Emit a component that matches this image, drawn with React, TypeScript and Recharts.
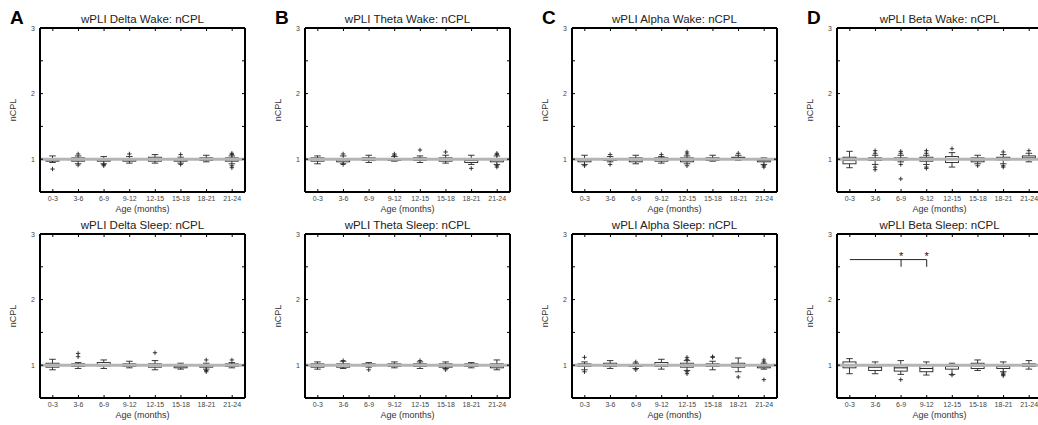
import { ComposedChart, Bar, XAxis, YAxis, ReferenceLine, ReferenceDot } from 'recharts'

const AGES = ['0-3', '3-6', '6-9', '9-12', '12-15', '15-18', '18-21', '21-24']
const Y_TICKS = [0.5, 1, 1.5, 2, 2.5, 3]

// each row: [lower whisker, q1, median, q3, upper whisker]
const DELTA_WAKE = [
  [0.95, 0.97, 0.99, 1.0, 1.05], [0.93, 0.97, 0.99, 1.02, 1.05], [0.93, 0.97, 0.99, 1.0, 1.04], [0.94, 0.97, 0.99, 1.01, 1.04],
  [0.94, 0.97, 1.0, 1.03, 1.07], [0.94, 0.97, 0.99, 1.0, 1.03], [0.96, 0.98, 1.0, 1.02, 1.06], [0.93, 0.97, 0.99, 1.02, 1.05],
]
const DELTA_WAKE_OUT = [[0.85], [1.08, 0.91], [0.9, 0.92], [1.08], [], [1.07, 0.92], [], [1.09, 1.07, 0.9, 0.87]]

const THETA_WAKE = [
  [0.93, 0.97, 1.0, 1.02, 1.05], [0.93, 0.96, 0.99, 1.01, 1.05], [0.95, 0.98, 1.0, 1.02, 1.06], [0.97, 0.98, 1.0, 1.01, 1.04],
  [0.95, 0.98, 1.0, 1.02, 1.05], [0.94, 0.97, 1.0, 1.02, 1.06], [0.92, 0.95, 0.98, 1.01, 1.06], [0.92, 0.96, 0.99, 1.01, 1.05],
]
const THETA_WAKE_OUT = [[], [1.08, 0.92], [], [1.08, 1.06], [1.14], [1.11], [0.86], [1.09, 1.07, 0.9, 0.88]]

const ALPHA_WAKE = [
  [0.92, 0.96, 0.99, 1.01, 1.06], [0.96, 0.98, 1.0, 1.01, 1.04], [0.93, 0.96, 0.99, 1.02, 1.06], [0.94, 0.97, 1.0, 1.02, 1.04],
  [0.93, 0.96, 0.99, 1.02, 1.05], [0.97, 0.98, 1.0, 1.02, 1.06], [0.98, 1.0, 1.02, 1.03, 1.06], [0.92, 0.96, 0.98, 1.0, 1.02],
]
const ALPHA_WAKE_OUT = [[0.9], [1.07, 0.92], [], [1.07], [1.11, 1.08, 0.9], [], [1.09], [0.9, 0.88]]

const BETA_WAKE = [
  [0.87, 0.93, 0.98, 1.03, 1.12], [0.92, 0.98, 1.0, 1.02, 1.06], [0.96, 0.99, 1.01, 1.02, 1.06], [0.92, 0.97, 1.0, 1.03, 1.06],
  [0.88, 0.95, 1.0, 1.04, 1.1], [0.93, 0.96, 0.99, 1.02, 1.06], [0.93, 0.99, 1.01, 1.03, 1.07], [0.96, 1.0, 1.02, 1.05, 1.09],
]
const BETA_WAKE_OUT = [[], [1.13, 1.09, 0.88, 0.84], [1.12, 1.09, 0.92, 0.7], [1.13, 1.09, 0.88, 0.86], [1.16], [0.9], [1.11, 0.9, 0.88], [1.13]]

const DELTA_SLEEP = [
  [0.93, 0.97, 1.0, 1.03, 1.09], [0.95, 0.98, 1.0, 1.02, 1.04], [0.95, 0.99, 1.01, 1.04, 1.08], [0.96, 0.98, 1.0, 1.02, 1.06],
  [0.93, 0.97, 1.0, 1.02, 1.07], [0.94, 0.96, 0.98, 1.0, 1.03], [0.94, 0.97, 0.99, 1.01, 1.03], [0.96, 0.98, 1.0, 1.02, 1.04],
]
const DELTA_SLEEP_OUT = [[], [1.18, 1.13], [], [], [1.19], [], [1.08, 0.92, 0.9], [1.08]]

const THETA_SLEEP = [
  [0.94, 0.97, 1.0, 1.02, 1.05], [0.95, 0.97, 1.0, 1.02, 1.06], [0.97, 0.99, 1.0, 1.02, 1.04], [0.96, 0.98, 1.0, 1.02, 1.05],
  [0.95, 0.98, 1.0, 1.02, 1.05], [0.95, 0.97, 0.99, 1.02, 1.05], [0.96, 0.98, 1.0, 1.02, 1.04], [0.93, 0.96, 0.99, 1.02, 1.08],
]
const THETA_SLEEP_OUT = [[], [1.07], [0.93], [], [1.07], [0.93], [], []]

const ALPHA_SLEEP = [
  [0.93, 0.98, 1.0, 1.02, 1.05], [0.95, 0.98, 1.0, 1.03, 1.07], [0.95, 0.98, 0.99, 1.0, 1.03], [0.94, 0.98, 1.0, 1.04, 1.09],
  [0.92, 0.97, 1.0, 1.03, 1.07], [0.93, 0.98, 1.0, 1.02, 1.06], [0.9, 0.97, 1.0, 1.03, 1.11], [0.94, 0.96, 0.98, 1.0, 1.03],
]
const ALPHA_SLEEP_OUT = [[1.12, 0.9], [], [1.05, 0.93], [], [1.12, 1.09, 0.9, 0.87], [1.13, 1.12], [0.82], [1.08, 1.05, 0.78]]

const BETA_SLEEP = [
  [0.87, 0.96, 1.0, 1.05, 1.1], [0.87, 0.92, 0.97, 1.01, 1.05], [0.86, 0.91, 0.96, 1.0, 1.07], [0.85, 0.9, 0.95, 1.0, 1.05],
  [0.86, 0.94, 0.98, 1.01, 1.03], [0.92, 0.95, 0.99, 1.03, 1.08], [0.9, 0.95, 0.98, 1.01, 1.05], [0.94, 0.98, 1.0, 1.02, 1.07],
]
const BETA_SLEEP_OUT = [[], [], [0.78], [], [0.85], [], [0.88, 0.86, 0.84], []]

// significance bracket in Beta Sleep: reference group, significant groups
const BETA_SLEEP_SIG_FROM = '0-3'
const BETA_SLEEP_SIG_TO = ['6-9', '9-12']

const FONT = '"Liberation Sans", Arial, Helvetica, sans-serif'
const PLOT_LEFT = [40, 305, 572, 837]
const ROW_TOP = [0, 206]
const TICK = 6 // tickSize, tick lines themselves are hidden and redrawn inward
const IN = 3 // inward tick length

type Panel = { title: string; boxes: number[][]; outliers: number[][]; col: number; row: number; letter?: string; sig?: boolean }

const PANELS: Panel[] = [
  { title: 'wPLI Delta Wake: nCPL', boxes: DELTA_WAKE, outliers: DELTA_WAKE_OUT, col: 0, row: 0, letter: 'A' },
  { title: 'wPLI Theta Wake: nCPL', boxes: THETA_WAKE, outliers: THETA_WAKE_OUT, col: 1, row: 0, letter: 'B' },
  { title: 'wPLI Alpha Wake: nCPL', boxes: ALPHA_WAKE, outliers: ALPHA_WAKE_OUT, col: 2, row: 0, letter: 'C' },
  { title: 'wPLI Beta Wake: nCPL', boxes: BETA_WAKE, outliers: BETA_WAKE_OUT, col: 3, row: 0, letter: 'D' },
  { title: 'wPLI Delta Sleep: nCPL', boxes: DELTA_SLEEP, outliers: DELTA_SLEEP_OUT, col: 0, row: 1 },
  { title: 'wPLI Theta Sleep: nCPL', boxes: THETA_SLEEP, outliers: THETA_SLEEP_OUT, col: 1, row: 1 },
  { title: 'wPLI Alpha Sleep: nCPL', boxes: ALPHA_SLEEP, outliers: ALPHA_SLEEP_OUT, col: 2, row: 1 },
  { title: 'wPLI Beta Sleep: nCPL', boxes: BETA_SLEEP, outliers: BETA_SLEEP_OUT, col: 3, row: 1, sig: true },
]

function BottomTick(props: any) {
  const { x, y, payload } = props
  const ay = y - TICK
  return (
    <g>
      <line x1={x} x2={x} y1={ay} y2={ay - IN} stroke="#000" />
      <text x={x} y={ay + 8.5} textAnchor="middle" fontSize={7} fill="#444" fontFamily={FONT}>
        {payload.value}
      </text>
    </g>
  )
}

function TopTick(props: any) {
  const { x, y } = props
  const ay = y + TICK
  return <line x1={x} x2={x} y1={ay} y2={ay + IN} stroke="#000" />
}

function LeftTick(props: any) {
  const { x, y, payload } = props
  const ax = x + TICK
  const v = payload.value
  return (
    <g>
      <line x1={ax} x2={ax + IN} y1={y} y2={y} stroke="#000" />
      {Number.isInteger(v) && (
        <text x={ax - 5} y={y + 2.5} textAnchor="end" fontSize={7} fill="#444" fontFamily={FONT}>
          {v}
        </text>
      )}
    </g>
  )
}

function RightTick(props: any) {
  const { x, y } = props
  const ax = x - TICK
  return <line x1={ax} x2={ax - IN} y1={y} y2={y} stroke="#000" />
}

function BoxShape(props: any) {
  const { x, y, width, height, payload } = props
  const top = Math.min(y, y + height)
  const bottom = Math.max(y, y + height)
  const { min, max, lo, q1, med, q3, hi, out } = payload
  const py = (v: number) => bottom - ((v - min) / (max - min)) * (bottom - top)
  const cx = x + width / 2
  const cap = width * 0.25
  const s = '#222'
  return (
    <g>
      <line x1={cx} x2={cx} y1={py(hi)} y2={py(q3)} stroke={s} strokeWidth={0.9} />
      <line x1={cx} x2={cx} y1={py(q1)} y2={py(lo)} stroke={s} strokeWidth={0.9} />
      <line x1={cx - cap} x2={cx + cap} y1={py(hi)} y2={py(hi)} stroke={s} strokeWidth={0.9} />
      <line x1={cx - cap} x2={cx + cap} y1={py(lo)} y2={py(lo)} stroke={s} strokeWidth={0.9} />
      <rect x={x} y={py(q3)} width={width} height={py(q1) - py(q3)} fill="none" stroke={s} strokeWidth={0.9} />
      <line x1={x} x2={x + width} y1={py(med)} y2={py(med)} stroke={s} strokeWidth={1.1} />
      {out.map((v: number, i: number) => (
        <g key={i}>
          <line x1={cx - 2.2} x2={cx + 2.2} y1={py(v)} y2={py(v)} stroke={s} strokeWidth={0.9} />
          <line x1={cx} x2={cx} y1={py(v) - 2.2} y2={py(v) + 2.2} stroke={s} strokeWidth={0.9} />
        </g>
      ))}
    </g>
  )
}

function BoxPanel({ p }: { p: Panel }) {
  const data = AGES.map((age, i) => {
    const [lo, q1, med, q3, hi] = p.boxes[i]
    const out = p.outliers[i]
    return { age, lo, q1, med, q3, hi, out, min: Math.min(lo, ...out), max: Math.max(hi, ...out) }
  })
  const left = PLOT_LEFT[p.col] - 40
  const frame = { stroke: '#000', strokeWidth: 2 }
  const hidden = { stroke: 'none' }
  return (
    <div style={{ position: 'absolute', left, top: ROW_TOP[p.row] }}>
      <ComposedChart width={250} height={215} data={data} margin={{ top: 27, right: 4, bottom: 1, left: 10 }}>
        <XAxis
          dataKey="age"
          height={22}
          tick={<BottomTick />}
          tickSize={TICK}
          tickMargin={0}
          interval={0}
          axisLine={frame}
          tickLine={hidden}
          label={{ value: 'Age (months)', position: 'insideBottom', offset: 2, fontSize: 9, fill: '#333', fontFamily: FONT }}
        />
        <XAxis
          xAxisId="top"
          dataKey="age"
          orientation="top"
          height={1}
          tick={<TopTick />}
          tickSize={TICK}
          tickMargin={0}
          interval={0}
          axisLine={frame}
          tickLine={hidden}
          label={{ value: p.title, position: 'top', offset: 4, fontSize: 11.5, fill: '#222', fontFamily: FONT }}
        />
        <YAxis
          width={30}
          domain={[0.5, 3]}
          ticks={Y_TICKS}
          allowDataOverflow
          interval={0}
          tick={<LeftTick />}
          tickSize={TICK}
          tickMargin={0}
          axisLine={frame}
          tickLine={hidden}
          label={{ value: 'nCPL', angle: -90, position: 'insideLeft', offset: 3, fontSize: 9, fill: '#333', fontFamily: FONT, style: { textAnchor: 'middle' } }}
        />
        <YAxis
          yAxisId="right"
          orientation="right"
          width={1}
          domain={[0.5, 3]}
          ticks={Y_TICKS}
          allowDataOverflow
          interval={0}
          tick={<RightTick />}
          tickSize={TICK}
          tickMargin={0}
          axisLine={frame}
          tickLine={hidden}
        />
        <ReferenceLine y={1} stroke="#b4b4b4" strokeWidth={3} />
        <Bar dataKey={(d: any) => [d.min, d.max]} barSize={13} shape={<BoxShape />} activeBar={false} isAnimationActive={false} />
        {p.sig && (
          <ReferenceLine
            segment={[{ x: BETA_SLEEP_SIG_FROM, y: 2.61 }, { x: BETA_SLEEP_SIG_TO[BETA_SLEEP_SIG_TO.length - 1], y: 2.61 }]}
            stroke="#222"
            strokeWidth={1}
          />
        )}
        {p.sig &&
          BETA_SLEEP_SIG_TO.map(g => (
            <ReferenceLine key={'t' + g} segment={[{ x: g, y: 2.61 }, { x: g, y: 2.5 }]} stroke="#222" strokeWidth={1} />
          ))}
        {p.sig &&
          BETA_SLEEP_SIG_TO.map(g => (
            <ReferenceDot
              key={'s' + g}
              x={g}
              y={2.66}
              r={0.01}
              fill="none"
              stroke="none"
              label={{ value: '*', position: 'center', fontSize: 11, fill: '#111', fontFamily: FONT }}
            />
          ))}
      </ComposedChart>
      {p.letter && (
        <div
          style={{
            position: 'absolute',
            left: 10,
            top: 8,
            fontFamily: FONT,
            fontWeight: 'bold',
            fontSize: 19,
            lineHeight: '20px',
            color: '#000',
          }}
        >
          {p.letter}
        </div>
      )}
    </div>
  )
}

export default function App() {
  return (
    <div style={{ position: 'absolute', left: 0, top: 0, width: 1038, height: 425, overflow: 'hidden', background: '#fff' }}>
      {PANELS.map(p => (
        <BoxPanel key={p.title} p={p} />
      ))}
    </div>
  )
}
